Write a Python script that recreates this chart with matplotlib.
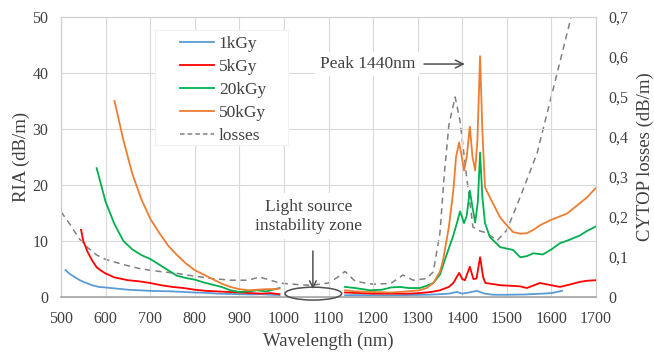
import numpy as np
import matplotlib
matplotlib.use("Agg")
import matplotlib.pyplot as plt
from matplotlib.patches import Ellipse, Rectangle
from matplotlib.ticker import FuncFormatter, MultipleLocator
from matplotlib.lines import Line2D

nan = np.nan

# ---- data ----
wl_1k = [510, 520, 530, 540, 550, 560, 570, 585, 600, 625, 650, 675, 700, 725, 750, 775, 800, 825, 850, 875, 900, 925, 950, 970, 990,
         nan,
         1137, 1160, 1200, 1240, 1280, 1320, 1350, 1370, 1388, 1400, 1415, 1433, 1450, 1470, 1500, 1540, 1580, 1600, 1624]
ria_1k = [4.8, 4.1, 3.6, 3.1, 2.7, 2.4, 2.1, 1.8, 1.7, 1.5, 1.3, 1.2, 1.1, 1.05, 1.0, 0.9, 0.8, 0.75, 0.6, 0.55, 0.5, 0.45, 0.5, 0.4, 0.35,
          nan,
          0.3, 0.35, 0.3, 0.3, 0.35, 0.4, 0.5, 0.6, 0.9, 0.6, 0.8, 1.1, 0.6, 0.4, 0.4, 0.45, 0.6, 0.7, 1.1]

wl_5k = [545, 550, 560, 570, 580, 590, 600, 620, 650, 675, 700, 725, 750, 775, 800, 825, 850, 875, 900, 925, 950, 970, 990,
         nan,
         1137, 1170, 1200, 1240, 1280, 1305, 1330, 1350, 1370, 1380, 1393, 1400, 1406, 1417, 1425, 1432, 1440, 1447, 1452,
         1470, 1485, 1510, 1530, 1545, 1574, 1600, 1619, 1640, 1664, 1680, 1700]
ria_5k = [12, 10, 8, 6.5, 5.3, 4.7, 4.2, 3.5, 3.0, 2.8, 2.5, 2.1, 1.8, 1.6, 1.3, 1.1, 1.0, 0.9, 0.8, 0.7, 0.6, 0.7, 0.5,
          nan,
          0.8, 0.7, 0.6, 0.6, 0.6, 0.7, 0.9, 1.2, 1.8, 2.5, 4.3, 3.2, 3.0, 5.4, 3.2, 3.3, 7.1, 3.5, 2.5,
          2.3, 2.1, 2.0, 1.9, 1.6, 2.5, 2.1, 1.8, 2.2, 2.7, 2.9, 3.0]

wl_20k = [580, 590, 600, 620, 640, 660, 680, 700, 720, 740, 760, 780, 800, 820, 840, 860, 880, 900, 920, 940, 960, 980, 990,
          nan,
          1137, 1160, 1193, 1220, 1240, 1260, 1280, 1305, 1320, 1335, 1350, 1366, 1380, 1388, 1395, 1404, 1410, 1417, 1423,
          1429, 1435, 1440, 1445, 1451, 1462, 1485, 1514, 1530, 1545, 1559, 1581, 1600, 1619, 1640, 1664, 1680, 1700]
ria_20k = [23, 20, 17, 13, 10, 8.5, 7.5, 6.8, 5.8, 4.8, 3.8, 3.4, 3.1, 2.6, 2.2, 1.8, 1.2, 0.9, 1.0, 1.2, 1.0, 1.4, 1.6,
           nan,
           1.8, 1.6, 1.2, 1.3, 1.7, 1.8, 1.6, 1.6, 2.0, 2.5, 4.0, 7.8, 11, 13.2, 15.3, 13.2, 14.5, 19, 16,
           13.3, 17, 25.8, 18, 13.2, 10.7, 8.9, 8.4, 7.1, 7.3, 7.8, 7.6, 8.5, 9.6, 10.2, 11, 11.8, 12.6]

wl_50k = [620, 640, 660, 680, 700, 720, 740, 760, 780, 800, 820, 840, 860, 880, 900, 920, 940, 960, 980, 990,
          nan,
          1137, 1160, 1200, 1240, 1260, 1305, 1320, 1335, 1350, 1357, 1370, 1380, 1386, 1393, 1399, 1404, 1410, 1417,
          1423, 1429, 1434, 1440, 1445, 1451, 1462, 1485, 1500, 1514, 1530, 1545, 1560, 1574, 1600, 1635, 1660, 1680, 1700]
ria_50k = [35, 28, 22, 17.5, 14, 11.5, 9.2, 7.5, 6, 4.8, 4.0, 3.2, 2.4, 1.8, 1.4, 1.2, 1.3, 1.4, 1.4, 1.5,
           nan,
           1.2, 1.0, 0.9, 0.8, 0.9, 1.2, 1.6, 2.5, 4.5, 6.6, 12.5, 19, 25, 27.6, 25, 22.6, 25, 30.4,
           25, 22.6, 28, 43, 30, 19.6, 17.8, 14.2, 12.8, 11.6, 11.3, 11.4, 12, 12.8, 13.8, 14.9, 16.5, 17.8, 19.5]

wl_loss = [500, 520, 540, 560, 580, 600, 640, 680, 720, 760, 800, 840, 880, 920, 945, 970, 990, 1020, 1060, 1100,
           1120, 1137, 1160, 1200, 1240, 1267, 1290, 1320, 1335, 1350, 1360, 1370, 1384, 1395, 1411, 1424, 1440,
           1455, 1478, 1500, 1530, 1568, 1604, 1642, 1660]
loss = [0.213, 0.182, 0.147, 0.123, 0.105, 0.094, 0.081, 0.070, 0.064, 0.059, 0.052, 0.046, 0.042, 0.042, 0.050,
        0.042, 0.035, 0.032, 0.029, 0.035, 0.049, 0.064, 0.039, 0.032, 0.034, 0.055, 0.042, 0.046, 0.063, 0.16,
        0.31, 0.43, 0.50, 0.44, 0.29, 0.175, 0.165, 0.16, 0.141, 0.167, 0.25, 0.36, 0.52, 0.69, 0.78]

labels = ["1kGy", "5kGy", "20kGy", "50kGy", "losses"]
colors = ["#5b9bd5", "#ff0000", "#00b050", "#ed7d31", "#808080"]

# ---- style ----
plt.rcParams['font.family'] = ['Liberation Serif', 'DejaVu Serif']
plt.rcParams['font.size'] = 11
txt_col = "#404040"

fig = plt.figure(figsize=(6.54, 3.54), dpi=100)
ax = fig.add_axes([61/654, 1-297/354, 535/654, 280/354])
ax2 = ax.twinx()
ax.set_zorder(ax2.get_zorder() + 1)
ax.patch.set_visible(False)

ax2.plot(wl_loss, loss, color=colors[4], lw=1.1, ls=(0, (4, 3)))
for w, r, c, l in zip([wl_1k, wl_5k, wl_20k, wl_50k], [ria_1k, ria_5k, ria_20k, ria_50k], colors[:4], labels[:4]):
    ax.plot(w, r, color=c, lw=1.3, label=l)

ax.set_xlim(500, 1700)
ax.set_ylim(0, 50)
ax2.set_ylim(0, 0.7)
ax.xaxis.set_major_locator(MultipleLocator(100))
ax.yaxis.set_major_locator(MultipleLocator(10))
ax2.yaxis.set_major_locator(MultipleLocator(0.1))
ax2.yaxis.set_major_formatter(FuncFormatter(lambda v, p: "0" if abs(v) < 1e-9 else f"{v:.1f}".replace('.', ',')))

ax.grid(True, color="#d9d9d9", lw=0.8)
ax.set_axisbelow(True)
for a in (ax, ax2):
    for s in a.spines.values():
        s.set_color("#d0d0d0")
        s.set_linewidth(0.8)
    a.tick_params(length=0, colors=txt_col, labelsize=11.5, pad=9)
ax.tick_params(axis='x', pad=10)
ax.spines['bottom'].set_color("#a6a6a6")
ax.spines['bottom'].set_linewidth(1.2)

ax.set_xlabel("Wavelength (nm)", color=txt_col, fontsize=13.5, labelpad=4)
ax.set_ylabel("RIA (dB/m)", color=txt_col, fontsize=13.5, labelpad=2)
ax2.set_ylabel("CYTOP losses (dB/m)", color=txt_col, fontsize=13.5, labelpad=6)

# legend box + legend
ax.add_patch(Rectangle((0.176, 0.543), 0.248, 0.411, transform=ax.transAxes, facecolor='white',
                       edgecolor='#f2f2f2', lw=0.8, zorder=4))
handles = [Line2D([], [], color=c, lw=1.3) for c in colors[:4]] + \
          [Line2D([], [], color=colors[4], lw=1.1, ls=(0, (3, 2)))]
leg = ax.legend(handles, labels, loc='upper left', bbox_to_anchor=(0.222, 0.934), borderaxespad=0,
                frameon=False, fontsize=12.5, handlelength=2.0, labelspacing=0.4, borderpad=0,
                handletextpad=0.25)
leg.set_zorder(5)
for t in leg.get_texts():
    t.set_color(txt_col)

# annotations
ax.text(1294, 41.6, "Peak 1440nm", ha='right', va='center', color=txt_col, fontsize=12.5,
        bbox=dict(facecolor='white', edgecolor='none', pad=3), zorder=4)
ax.annotate("", xy=(1412, 41.6), xytext=(1308, 41.6),
            arrowprops=dict(arrowstyle='->', color='#505050', lw=1.1, mutation_scale=14), zorder=4)
ax.text(1055, 14.4, "Light source\ninstability zone", ha='center', va='center', color=txt_col,
        fontsize=12.5, linespacing=1.25, bbox=dict(facecolor='white', edgecolor='none', pad=4), zorder=4)
ax.annotate("", xy=(1065, 0.9), xytext=(1065, 8.7),
            arrowprops=dict(arrowstyle='->', color='#505050', lw=1.1, mutation_scale=12), zorder=4)
ax.add_patch(Ellipse((1066, 0.6), 127, 2.3, facecolor='none', edgecolor='#505050', lw=1.1,
                     clip_on=False, zorder=4))

fig.savefig("out.png", dpi=100)
